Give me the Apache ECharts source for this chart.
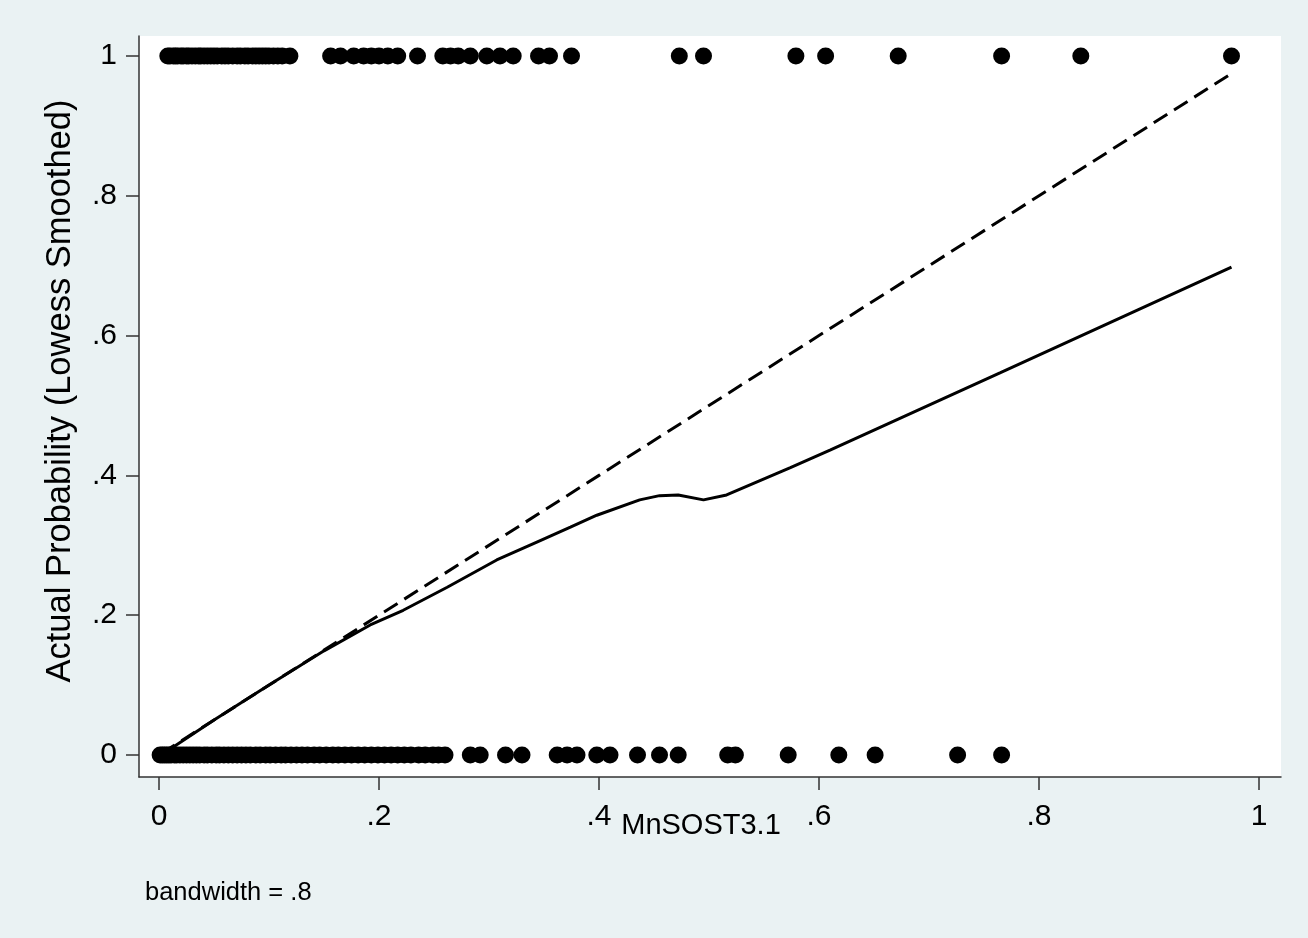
<!DOCTYPE html>
<html>
<head>
<meta charset="utf-8">
<script src="https://cdn.jsdelivr.net/npm/echarts@6/dist/echarts.min.js"></script>
<style>
  html, body { margin: 0; padding: 0; background: #eaf2f3; }
  #chart { width: 1308px; height: 938px; }
</style>
</head>
<body>
<div id="chart"></div>
<script>
// MnSOST3.1 values of observations with outcome = 1
var topX = [0.008, 0.010, 0.013, 0.015, 0.017, 0.020, 0.022, 0.025, 0.027, 0.030,
  0.033, 0.036, 0.038, 0.041, 0.044, 0.047, 0.050, 0.053, 0.057, 0.060,
  0.063, 0.067, 0.071, 0.074, 0.078, 0.081, 0.085, 0.088, 0.091, 0.094,
  0.097, 0.100, 0.104, 0.108, 0.112, 0.119,
  0.156, 0.165, 0.177, 0.186, 0.193, 0.200, 0.208, 0.217, 0.235,
  0.258, 0.265, 0.272, 0.283, 0.298, 0.310, 0.322, 0.345, 0.355, 0.375,
  0.473, 0.495, 0.579, 0.606, 0.672, 0.766, 0.838, 0.975];
// MnSOST3.1 values of observations with outcome = 0
var bottomX = [0.001, 0.003, 0.005, 0.007, 0.009, 0.011, 0.014, 0.016, 0.019, 0.022,
  0.025, 0.028, 0.031, 0.034, 0.037, 0.041, 0.044, 0.048, 0.052, 0.055,
  0.059, 0.063, 0.067, 0.071, 0.075, 0.079, 0.083, 0.088, 0.092, 0.097,
  0.101, 0.106, 0.111, 0.115, 0.120, 0.125, 0.130, 0.135, 0.141, 0.146,
  0.152, 0.158, 0.163, 0.169, 0.175, 0.181, 0.187, 0.193, 0.199, 0.205,
  0.211, 0.217, 0.223, 0.229, 0.236, 0.242, 0.249, 0.254, 0.260,
  0.283, 0.292, 0.315, 0.330, 0.362, 0.371, 0.380, 0.398, 0.410,
  0.435, 0.455, 0.472, 0.517, 0.524, 0.572, 0.618, 0.651, 0.726, 0.766];
// lowess smoothed actual probability (solid)
var lowessX = [0.002, 0.05, 0.10, 0.15, 0.192, 0.222, 0.262, 0.307, 0.344, 0.374,
  0.398, 0.437, 0.455, 0.472, 0.495, 0.516, 0.574, 0.610, 0.765, 0.975];
var lowessY = [0.0, 0.05, 0.10, 0.149, 0.186, 0.207, 0.240, 0.279, 0.305, 0.326,
  0.343, 0.365, 0.371, 0.372, 0.365, 0.372, 0.411, 0.436, 0.547, 0.698];
// reference (predicted) line, dashed
var refX = [0.002, 0.2, 0.4, 0.6, 0.8, 0.975];
var refY = [0.002, 0.2, 0.4, 0.6, 0.8, 0.975];

var tickValues = [0, 0.2, 0.4, 0.6, 0.8, 1];
var tickLabels = ['0', '.2', '.4', '.6', '.8', '1'];

function pairs(xs, ys) {
  return xs.map(function (x, i) { return [x, ys[i]]; });
}
function rowAt(xs, y) {
  return xs.map(function (x) { return [x, y]; });
}
function fmt(v) {
  var i = tickValues.findIndex(function (t) { return Math.abs(t - v) < 1e-9; });
  return i >= 0 ? tickLabels[i] : '';
}

var font = '"Liberation Sans", Arial, sans-serif';
var chart = echarts.init(document.getElementById('chart'));
chart.setOption({
  backgroundColor: '#eaf2f3',
  animation: false,
  textStyle: { fontFamily: font, color: '#000' },
  grid: {
    left: 139, top: 36, width: 1142, height: 741,
    show: true, backgroundColor: '#fff', borderWidth: 0
  },
  xAxis: {
    type: 'value', min: -0.0182, max: 1.0200,
    splitLine: { show: false },
    axisLine: { show: true, onZero: false, lineStyle: { color: '#333', width: 1.5 } },
    axisTick: { show: true, length: 13, customValues: tickValues, lineStyle: { color: '#333', width: 1.5 } },
    axisLabel: { customValues: tickValues, formatter: fmt, fontSize: 30, color: '#000', margin: 25, fontFamily: font }
  },
  yAxis: {
    type: 'value', min: -0.0315, max: 1.0286,
    splitLine: { show: false },
    axisLine: { show: true, onZero: false, lineStyle: { color: '#333', width: 1.5 } },
    axisTick: { show: true, length: 13, customValues: tickValues, lineStyle: { color: '#333', width: 1.5 } },
    axisLabel: { customValues: tickValues, formatter: fmt, fontSize: 30, color: '#000', margin: 22, fontFamily: font }
  },
  graphic: [
    {
      type: 'text', x: 701, y: 826,
      style: { text: 'MnSOST3.1', font: '29px ' + font, fill: '#000', textAlign: 'center', textVerticalAlign: 'middle' }
    },
    {
      type: 'text', x: 60, y: 391, rotation: Math.PI / 2,
      style: { text: 'Actual Probability (Lowess Smoothed)', font: '34.5px ' + font, fill: '#000', textAlign: 'center', textVerticalAlign: 'middle' }
    },
    {
      type: 'text', left: 145, top: 880,
      style: { text: 'bandwidth = .8', font: '25.5px ' + font, fill: '#000' }
    }
  ],
  series: [
    {
      type: 'scatter', data: rowAt(topX, 1), symbolSize: 17,
      itemStyle: { color: '#000', opacity: 1 }, silent: true
    },
    {
      type: 'scatter', data: rowAt(bottomX, 0), symbolSize: 17,
      itemStyle: { color: '#000', opacity: 1 }, silent: true
    },
    {
      type: 'line', data: pairs(lowessX, lowessY), showSymbol: false,
      lineStyle: { color: '#000', width: 3 }
    },
    {
      type: 'line', data: pairs(refX, refY), showSymbol: false,
      lineStyle: { color: '#000', width: 3, type: [16, 8] }
    }
  ]
});
</script>
</body>
</html>
